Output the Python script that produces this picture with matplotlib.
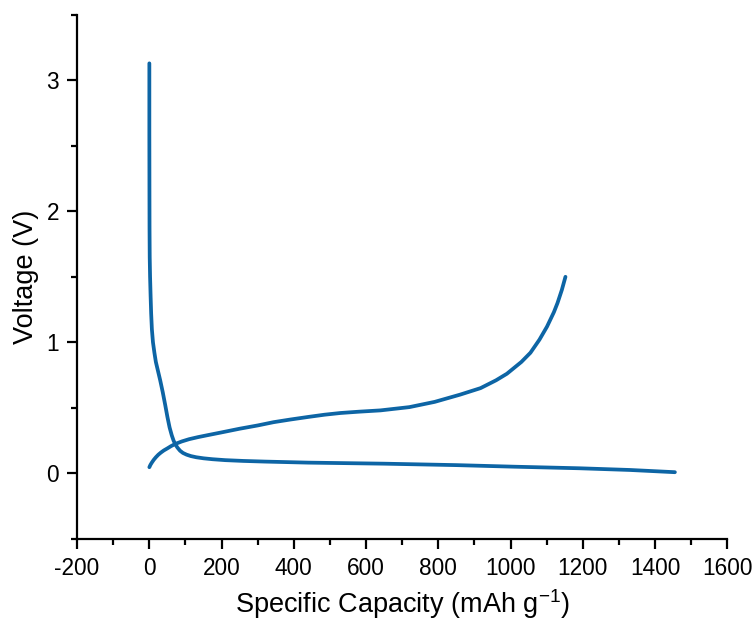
import numpy as np
import matplotlib.pyplot as plt
from matplotlib.ticker import MultipleLocator

plt.rcParams['font.family'] = ['Liberation Sans', 'DejaVu Sans']
plt.rcParams['mathtext.fontset'] = 'custom'
plt.rcParams['mathtext.rm'] = 'Liberation Sans'
plt.rcParams['mathtext.it'] = 'Liberation Sans:italic'
plt.rcParams['axes.unicode_minus'] = False

# discharge (lithiation) curve
dis_cap = [0, 0, 0.3, 0.5, 1, 2, 3.5, 5, 7, 10, 14, 18, 24, 30, 37, 44, 50, 56, 62, 67,
           72, 78, 85, 93, 103, 115, 130, 150, 175, 210, 260, 320, 440, 650, 850, 1010,
           1190, 1330, 1455]
dis_v = [3.13, 2.6, 2.1, 1.87, 1.65, 1.5, 1.35, 1.22, 1.1, 1.0, 0.92, 0.85, 0.78, 0.71,
         0.62, 0.52, 0.43, 0.35, 0.29, 0.25, 0.22, 0.195, 0.172, 0.155, 0.142, 0.131,
         0.122, 0.114, 0.107, 0.1, 0.094, 0.089, 0.081, 0.073, 0.062, 0.05, 0.038, 0.025,
         0.008]

# charge (delithiation) curve
chg_cap = [0, 3, 7, 12, 18, 25, 32, 40, 50, 60, 72, 90, 110, 135, 160, 200, 250, 300,
           344, 390, 440, 485, 529, 580, 640, 720, 790, 860, 917, 960, 990, 1030, 1055,
           1080, 1101, 1120, 1130, 1142, 1152]
chg_v = [0.046, 0.064, 0.082, 0.102, 0.122, 0.142, 0.158, 0.174, 0.19, 0.207, 0.224,
         0.243, 0.26, 0.276, 0.29, 0.312, 0.34, 0.365, 0.39, 0.41, 0.43, 0.447, 0.46,
         0.47, 0.48, 0.505, 0.545, 0.6, 0.65, 0.71, 0.76, 0.85, 0.92, 1.02, 1.12, 1.23,
         1.30, 1.40, 1.50]

color = '#0d65a5'

fig = plt.figure(figsize=(7.56, 6.21), dpi=100)
ax = fig.add_axes([0.102, 0.1325, 0.86, 0.8435])

ax.plot(dis_cap, dis_v, color=color, lw=2.7, solid_capstyle='round', solid_joinstyle='round')
ax.plot(chg_cap, chg_v, color=color, lw=2.7, solid_capstyle='round', solid_joinstyle='round')

ax.set_xlim(-200, 1600)
ax.set_ylim(-0.5, 3.5)
ax.xaxis.set_major_locator(MultipleLocator(200))
ax.xaxis.set_minor_locator(MultipleLocator(100))
ax.yaxis.set_major_locator(MultipleLocator(1))
ax.yaxis.set_minor_locator(MultipleLocator(0.5))

for s in ['top', 'right']:
    ax.spines[s].set_visible(False)
for s in ['left', 'bottom']:
    ax.spines[s].set_linewidth(1.6)

ax.tick_params(which='major', direction='out', length=7, width=1.6, labelsize=16.3, pad=6)
ax.tick_params(which='minor', direction='out', length=4, width=1.6)

ax.set_xlabel('Specific Capacity (mAh g$^{-1}$)', fontsize=19.5, labelpad=5)
ax.set_ylabel('Voltage (V)', fontsize=19.5, labelpad=5)

fig.savefig('out.png', dpi=100)
